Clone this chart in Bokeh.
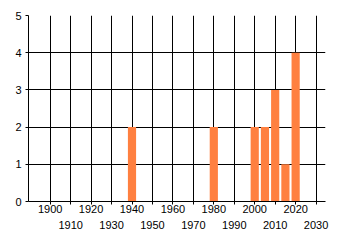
from bokeh.plotting import figure
from bokeh.models import LinearAxis, FixedTicker, ColumnDataSource, Grid
from bokeh.embed import file_html
from bokeh.resources import INLINE

years = [1940, 1980, 2000, 2005, 2010, 2015, 2020]
counts = [2, 2, 2, 2, 3, 1, 4]
even_ticks = [1900, 1920, 1940, 1960, 1980, 2000, 2020]
odd_ticks = [1910, 1930, 1950, 1970, 1990, 2010, 2030]
y_ticks = [0, 1, 2, 3, 4, 5]

FONT = "Liberation Sans"
FS = "11px"

p = figure(width=340, height=245, output_backend="svg", toolbar_location=None,
           x_range=(1889.4, 2034.6), y_range=(0, 5),
           x_axis_location=None, y_axis_location=None,
           min_border_left=28, min_border_right=15, min_border_top=15,
           min_border_bottom=44)
p.outline_line_color = None
p.background_fill_color = "white"
p.border_fill_color = "white"

src = ColumnDataSource(dict(x=years, top=counts))
p.vbar(x="x", top="top", bottom=0, width=4, source=src,
       fill_color="#FF8040", line_color=None)

# y axis
ya = LinearAxis(ticker=FixedTicker(ticks=y_ticks))
ya.major_tick_out = 3
ya.major_tick_in = 0
ya.minor_tick_out = 0
ya.minor_tick_in = 0
ya.major_label_standoff = 4
ya.major_label_text_font = FONT
ya.major_label_text_font_size = FS
ya.major_label_text_color = "black"
ya.axis_line_color = "black"
ya.major_tick_line_color = "black"
p.add_layout(ya, "left")

# x axis row 1
all_ticks = sorted(even_ticks + odd_ticks)
xa = LinearAxis(ticker=FixedTicker(ticks=all_ticks))
xa.major_label_overrides = {t: "" for t in odd_ticks}
xa.major_tick_out = 3
xa.major_tick_in = 0
xa.minor_tick_out = 0
xa.minor_tick_in = 0
xa.major_label_standoff = 0
xa.major_label_text_font = FONT
xa.major_label_text_font_size = FS
xa.major_label_text_color = "black"
xa.axis_line_color = "black"
xa.major_tick_line_color = "black"
p.add_layout(xa, "below")

# x axis row 2
xb = LinearAxis(ticker=FixedTicker(ticks=odd_ticks))
xb.major_tick_out = 0
xb.major_tick_in = 0
xb.minor_tick_out = 0
xb.minor_tick_in = 0
xb.axis_line_color = None
xb.major_tick_line_color = None
xb.major_label_standoff = 5
xb.major_label_text_font = FONT
xb.major_label_text_font_size = FS
xb.major_label_text_color = "black"
p.add_layout(xb, "below")

p.xgrid.grid_line_color = None
p.ygrid.grid_line_color = None
p.add_layout(Grid(dimension=0, ticker=FixedTicker(ticks=all_ticks),
                  grid_line_color="black", grid_line_width=1, level="underlay"))
p.add_layout(Grid(dimension=1, ticker=FixedTicker(ticks=y_ticks),
                  grid_line_color="black", grid_line_width=1, level="underlay"))

open("out.html", "w").write(file_html(p, INLINE))
